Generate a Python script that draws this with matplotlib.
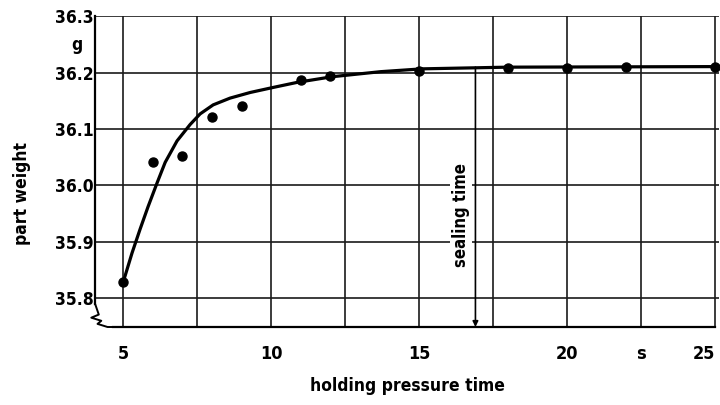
import matplotlib
matplotlib.use("Agg")
import matplotlib.pyplot as plt

# measured points (holding pressure time in s, part weight in g)
time_pts   = [5, 6, 7, 8, 9, 11, 12, 15, 18, 20, 22, 25]
weight_pts = [35.828, 36.041, 36.052, 36.121, 36.141, 36.188, 36.195,
              36.203, 36.209, 36.209, 36.210, 36.211]

# fitted curve
curve_t = [5.0, 5.30, 5.57, 5.84, 6.15, 6.42, 6.82, 7.26, 7.60, 8.04,
           8.61, 9.29, 10.07, 10.88, 12.06, 13.7, 15.1, 18.0, 25.0]
curve_w = [35.828, 35.880, 35.922, 35.962, 36.005, 36.041, 36.079, 36.108,
           36.127, 36.143, 36.155, 36.165, 36.174, 36.183, 36.193, 36.202,
           36.207, 36.210, 36.211]

sealing_time = 16.9

x_grid = [5, 7.5, 10, 12.5, 15, 17.5, 20, 22.5, 25]
y_grid = [35.8, 35.9, 36.0, 36.1, 36.2, 36.3]
x_ticks = [5, 10, 15, 20, 22.5, 25]
x_tick_labels = ["5", "10", "15", "20", "s", "25"]
y_tick_labels = ["35.8", "35.9", "36.0", "36.1", "36.2", "36.3"]

plt.rcParams["font.family"] = ["DejaVu Sans"]
plt.rcParams["font.stretch"] = "condensed"
plt.rcParams["font.weight"] = "bold"
plt.rcParams["axes.labelweight"] = "bold"

fig = plt.figure(figsize=(7.2, 4.05), dpi=100)
ax = fig.add_axes([0.132, 0.1926, 0.8667, 0.7667])
ax.set_xlim(4.05, 25.13)
ax.set_ylim(35.7485, 36.3)

for xg in x_grid:
    ax.axvline(xg, color="#1a1a1a", lw=1.2, zorder=1)
for yg in y_grid:
    ax.axhline(yg, color="#1a1a1a", lw=1.2, zorder=1)

ax.plot(curve_t, curve_w, color="black", lw=2.3, zorder=3,
        solid_joinstyle="round")
ax.plot(time_pts, weight_pts, "o", color="black", ms=6.5, zorder=4)

# sealing time marker
ax.annotate("", xy=(sealing_time, 35.7485), xytext=(sealing_time, 36.21),
            arrowprops=dict(arrowstyle="-|>", color="black", lw=1.2,
                            mutation_scale=8, shrinkA=0, shrinkB=0), zorder=2)
ax.text(sealing_time - 0.5, 35.947, "sealing time", rotation=90,
        ha="center", va="center", fontsize=12,
        bbox=dict(facecolor="white", edgecolor="none", pad=1.5), zorder=2)

for side in ["top", "right"]:
    ax.spines[side].set_visible(False)
ax.spines["left"].set_linewidth(1.6)
ax.spines["bottom"].set_linewidth(1.6)
ax.spines["left"].set_bounds(35.79, 36.3)
ax.spines["bottom"].set_bounds(4.65, 25)

# axis break zigzag at the lower left corner
zx = [0.0, 0.006, -0.006, 0.010, 0.004, 0.020, 0.029]
zy = [0.075, 0.040, 0.030, 0.020, 0.010, 0.000, 0.0]
ax.plot(zx, zy, transform=ax.transAxes, color="black", lw=1.4, clip_on=False)

ax.set_xticks(x_ticks)
ax.set_xticklabels(x_tick_labels, fontsize=13)
ax.get_xticklabels()[-1].set_horizontalalignment("right")
ax.set_yticks(y_grid)
ax.set_yticklabels(y_tick_labels, fontsize=12.5)
ax.tick_params(axis="x", length=0, pad=13)
ax.tick_params(axis="y", length=0, pad=1)

ax.text(-0.029, 0.908, "g", transform=ax.transAxes, ha="center", va="center",
        fontsize=12.5)
ax.set_xlabel("holding pressure time", fontsize=12.5, labelpad=10)
fig.text(22 / 720, 1 - 194 / 405, "part weight", rotation=90,
         ha="center", va="center", fontsize=12.5)

fig.savefig("out.png", dpi=100)
